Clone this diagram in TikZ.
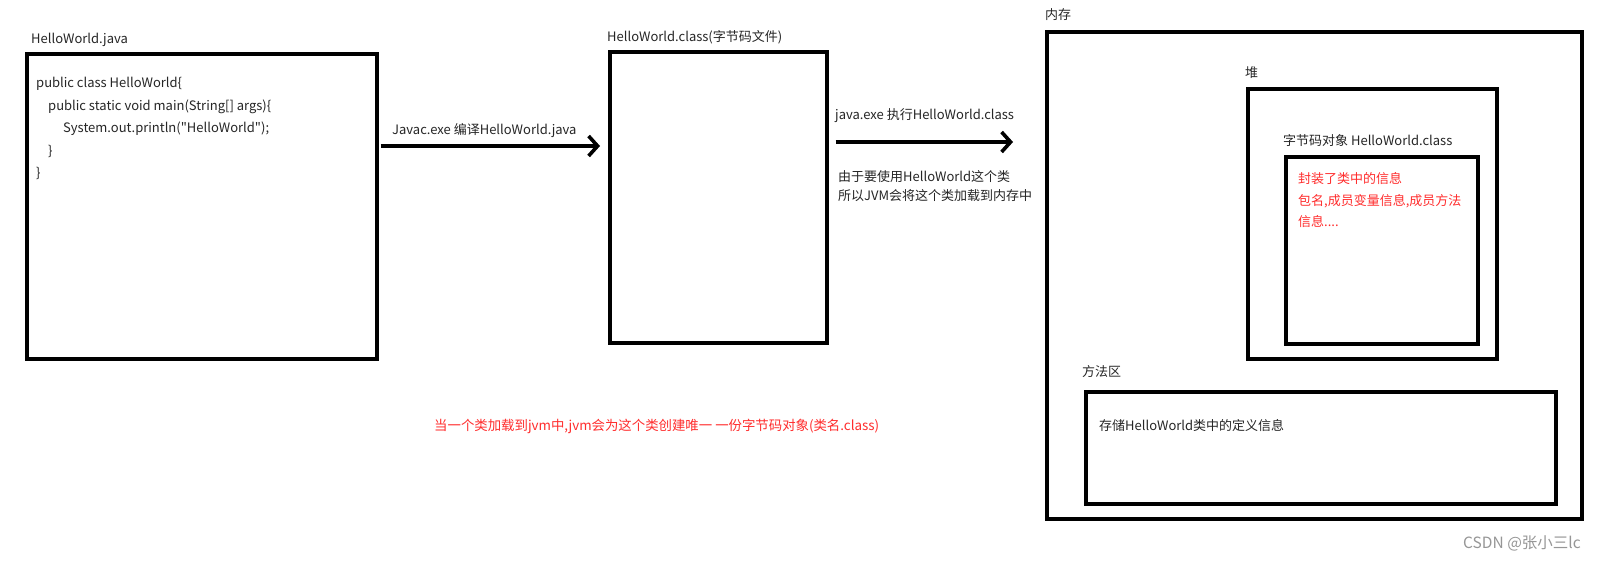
\documentclass[tikz,border=0pt]{standalone}
\usepackage{fontspec}
\setmainfont{Noto Sans CJK SC}[Ligatures=TeXOff]
\usetikzlibrary{arrows.meta}
\definecolor{redtxt}{RGB}{255,45,45}
\definecolor{wmgray}{RGB}{150,150,150}
\begin{document}
\begin{tikzpicture}[x=1pt,y=-1pt,
  box/.style={draw=black, line width=3.6pt, inner sep=0pt, anchor=north west},
  lbl/.style={anchor=west, inner sep=0pt, font=\fontsize{13}{15}\selectfont, text=black!85},
  redlbl/.style={lbl, text=redtxt},
  arr/.style={line width=3.6pt, -{Straight Barb[length=9pt,width=20pt]}}]
\useasboundingbox[fill=white] (0,0) rectangle (1603,561);

% boxes (stroke-centre rectangles)
\node[box, minimum width=350pt, minimum height=305pt] (java) at (25,52) {};
\node[box, minimum width=217pt, minimum height=291pt] (cls) at (608,50) {};
\node[box, minimum width=535pt, minimum height=487pt] (mem) at (1045,30) {};
\node[box, minimum width=249pt, minimum height=270pt] (heap) at (1246,87) {};
\node[box, minimum width=192pt, minimum height=187pt] (obj) at (1284,155) {};
\node[box, minimum width=470pt, minimum height=112pt] (meth) at (1084,390) {};

% labels
\node[lbl] (tjava) at (31,40) {HelloWorld.java};
\node[lbl] (c1) at (36,84) {public class HelloWorld\{};
\node[lbl] (c2) at (48,107) {public static void main(String[] args)\{};
\node[lbl] (c3) at (63,129) {System.out.println("HelloWorld");};
\node[lbl] (c4) at (48,151) {\}};
\node[lbl] (c5) at (36,173) {\}};

\node[lbl] (tcls) at (607,37) {HelloWorld.class(字节码文件)};
\node[lbl] (tjavac) at (392,131) {Javac.exe 编译HelloWorld.java};
\node[lbl] (texec) at (835,116) {java.exe 执行HelloWorld.class};
\node[lbl] (tl1) at (838,177) {由于要使用HelloWorld这个类};
\node[lbl] (tl2) at (838,196) {所以JVM会将这个类加载到内存中};

\node[lbl] (tmem) at (1045,15) {内存};
\node[lbl] (theap) at (1245,73) {堆};
\node[lbl] (tobj) at (1283,141) {字节码对象 HelloWorld.class};
\node[redlbl] (r1) at (1298,179) {封装了类中的信息};
\node[redlbl] (r2) at (1298,201) {包名,成员变量信息,成员方法};
\node[redlbl] (r3) at (1298,222) {信息....};
\node[lbl] (tmeth) at (1082,372) {方法区};
\node[lbl] (tmdef) at (1099,426) {存储HelloWorld类中的定义信息};

\node[redlbl, font=\fontsize{13.4}{15}\selectfont] (tbottom) at (434,426) {当一个类加载到jvm中,jvm会为这个类创建唯一 一份字节码对象(类名.class)};

\node[anchor=west, inner sep=0pt, font=\fontsize{15.5}{17}\selectfont, text=wmgray] (wm) at (1463,543) {CSDN @张小三lc};

% connectors
\draw[arr] ([xshift=2pt,yshift=-94pt]java.north east) -- ([xshift=-8pt,yshift=-96pt]cls.north west);
\draw[arr] ([xshift=7pt,yshift=-92pt]cls.north east) -- ([xshift=-32pt,yshift=-112pt]mem.north west);
\end{tikzpicture}
\end{document}
